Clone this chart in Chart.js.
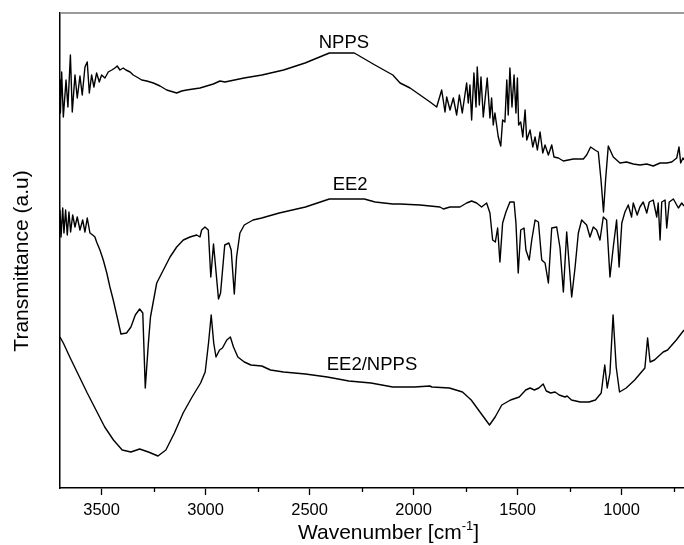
<!DOCTYPE html>
<html>
<head>
<meta charset="utf-8">
<script src="https://cdn.jsdelivr.net/npm/chart.js@4/dist/chart.umd.min.js"></script>
<style>
  html, body { margin: 0; padding: 0; background: #fff; overflow: hidden; }
  #wrap { width: 684px; height: 545px; position: relative; }
</style>
</head>
<body>
<div id="wrap"><canvas id="c" width="684" height="545"></canvas></div>
<script>
// FTIR spectra: wavenumber (cm-1) and transmittance (arbitrary units, offset stacked)
const nppsWn = [3700,3698,3692,3684,3671,3662,3650,3641,3628,3617,
  3604,3593,3580,3569,3559,3548,3537,3524,3511,3500,
  3484,3468,3451,3436,3425,3412,3396,3383,3363,3348,
  3331,3307,3283,3251,3219,3187,3155,3139,3115,3091,
  3059,3027,2995,2963,2931,2907,2815,2729,2625,2522,
  2405,2285,2186,2100,2065,2017,1969,1921,1889,1865,
  1849,1841,1825,1809,1793,1780,1766,1745,1737,1729,
  1721,1710,1700,1694,1684,1676,1665,1646,1633,1625,
  1617,1609,1593,1581,1572,1561,1552,1545,1537,1527,
  1517,1508,1501,1495,1485,1475,1464,1456,1440,1427,
  1416,1405,1392,1379,1368,1352,1336,1325,1304,1280,
  1232,1184,1168,1149,1128,1112,1099,1087,1077,1064,
  1040,1008,976,944,912,879,848,815,783,759,
  735,724,716,705,700];
const nppsT = [408,375,416,371,408,381,433,376,413,390,
  412,393,421,426,395,413,401,415,406,413,
  410,416,418,420,422,418,420,418,416,413,
  411,408,407,405,402,398,396,395,397,398,
  399,400,402,404,407,406,410,413,418,425,
  435,435,423,413,405,400,393,386,381,398,
  376,391,378,390,373,393,375,405,385,403,
  368,415,381,421,383,411,371,410,370,390,
  363,375,351,342,368,366,408,373,420,381,
  413,375,410,363,366,351,378,348,358,341,
  351,338,356,335,343,333,343,331,330,327,
  329,329,333,341,338,336,308,276,308,342,
  331,325,326,324,323,324,322,325,325,326,
  330,341,325,330,328];

const ee2Wn = [3700,3695,3687,3681,3673,3665,3657,3649,3639,3628,
  3617,3604,3591,3580,3569,3556,3543,3532,3524,3508,
  3492,3475,3460,3444,3422,3407,3380,3359,3338,3317,
  3302,3290,3275,3265,3250,3235,3203,3171,3139,3107,
  3075,3043,3027,3019,3003,2987,2975,2962,2938,2928,
  2908,2888,2877,2862,2851,2835,2814,2772,2730,2646,
  2520,2405,2237,2185,2100,2065,1969,1873,1857,1825,
  1777,1745,1721,1697,1673,1649,1633,1620,1607,1596,
  1585,1572,1556,1537,1517,1508,1497,1485,1469,1460,
  1444,1432,1416,1400,1384,1368,1352,1336,1312,1296,
  1280,1264,1240,1224,1208,1192,1168,1152,1136,1120,
  1104,1088,1072,1056,1040,1024,1012,999,984,968,
  952,944,925,912,896,879,867,848,831,824,
  815,807,791,783,771,751,727,711,700];
const ee2T = [278,251,280,255,278,253,276,256,273,261,
  271,258,268,256,270,255,253,251,246,238,
  228,215,201,188,168,154,155,161,173,179,
  175,100,145,171,188,205,218,231,241,248,
  251,253,251,258,261,258,211,244,189,195,
  243,245,238,194,231,255,263,268,270,275,
  281,289,289,286,284,284,283,281,279,281,
  281,285,287,285,281,285,275,248,246,260,
  226,265,276,286,286,265,215,258,260,238,
  228,248,268,266,228,225,205,260,261,240,
  196,256,191,220,255,268,263,251,261,258,
  248,271,268,211,241,268,221,265,276,283,
  271,285,273,281,286,275,286,288,271,285,
  248,286,288,260,286,289,280,285,282];

const mixWn = [3700,3684,3653,3611,3569,3527,3485,3443,3401,3359,
  3317,3275,3229,3191,3150,3108,3065,3024,3002,2986,
  2973,2961,2950,2933,2919,2898,2881,2866,2845,2814,
  2782,2730,2688,2625,2520,2415,2311,2205,2100,1996,
  1922,1912,1828,1765,1723,1681,1635,1608,1576,1534,
  1492,1461,1440,1419,1398,1377,1362,1341,1320,1300,
  1272,1262,1241,1199,1157,1126,1098,1081,1069,1056,
  1041,1026,1010,978,937,888,875,863,842,800,
  779,737,700];
const mixT = [151,145,131,113,95,78,61,48,38,36,
  39,36,32,38,55,75,91,105,116,145,
  173,145,131,138,140,148,151,141,131,126,
  123,122,118,116,114,111,107,105,101,101,
  102,101,100,96,88,76,63,71,83,88,
  91,98,100,98,100,104,97,95,96,93,
  91,92,88,86,86,88,95,123,100,115,
  173,121,96,100,108,120,150,126,128,136,
  138,148,158];

// Axis settings
const xMin = 700, xMax = 3700;
const majorTicks = [3500, 3000, 2500, 2000, 1500, 1000];
const minorTicks = [3250, 2750, 2250, 1750, 1250, 750];
const yMin = 0, yMax = 475;

// Spectrum name labels (placed in data coordinates)
const curveLabels = [
  { text: 'NPPS', wn: 2335, t: 445 },
  { text: 'EE2', wn: 2305, t: 303 },
  { text: 'EE2/NPPS', wn: 2200, t: 123 }
];

const FONT = '"Liberation Sans", Arial, Helvetica, sans-serif';

function pts(wn, t) { return wn.map((w, i) => ({ x: w, y: t[i] })); }

const decor = {
  id: 'decor',
  afterDraw(chart) {
    const { ctx, chartArea: a, scales: { x, y } } = chart;
    ctx.save();
    // grey top frame line
    ctx.strokeStyle = '#7a7a7a';
    ctx.lineWidth = 1.5;
    ctx.beginPath();
    ctx.moveTo(a.left, a.top);
    ctx.lineTo(a.right, a.top);
    ctx.stroke();
    // minor ticks on the wavenumber axis
    ctx.strokeStyle = '#000';
    ctx.lineWidth = 1.3;
    minorTicks.forEach(v => {
      const px = Math.round(x.getPixelForValue(v)) + 0.5;
      ctx.beginPath();
      ctx.moveTo(px, a.bottom);
      ctx.lineTo(px, a.bottom + 4);
      ctx.stroke();
    });
    // spectrum names
    ctx.fillStyle = '#000';
    ctx.font = '18.5px ' + FONT;
    ctx.textAlign = 'center';
    ctx.textBaseline = 'middle';
    curveLabels.forEach(l => ctx.fillText(l.text, x.getPixelForValue(l.wn), y.getPixelForValue(l.t)));
    // y axis title
    ctx.save();
    ctx.translate(22, 261);
    ctx.rotate(-Math.PI / 2);
    ctx.font = '21px ' + FONT;
    ctx.fillText('Transmittance (a.u)', 0, 0);
    ctx.restore();
    // x axis title with superscript
    const main = 'Wavenumber [cm', sup = '-1', tail = ']';
    ctx.textAlign = 'left';
    ctx.textBaseline = 'alphabetic';
    ctx.font = '21px ' + FONT;
    const w1 = ctx.measureText(main).width, w3 = ctx.measureText(tail).width;
    ctx.font = '13px ' + FONT;
    const w2 = ctx.measureText(sup).width;
    let tx = 388.5 - (w1 + w2 + w3) / 2;
    const base = 538.5;
    ctx.font = '21px ' + FONT;
    ctx.fillText(main, tx, base);
    tx += w1;
    ctx.font = '13px ' + FONT;
    ctx.fillText(sup, tx, base - 9);
    tx += w2;
    ctx.font = '21px ' + FONT;
    ctx.fillText(tail, tx, base);
    ctx.restore();
  }
};

const line = (data) => ({
  data, borderColor: '#000', borderWidth: 1.4, pointRadius: 0,
  tension: 0, fill: false, borderJoinStyle: 'round'
});

new Chart(document.getElementById('c'), {
  type: 'line',
  data: {
    datasets: [
      line(pts(nppsWn, nppsT)),
      line(pts(ee2Wn, ee2T)),
      line(pts(mixWn, mixT))
    ]
  },
  options: {
    responsive: false,
    animation: false,
    devicePixelRatio: 1,
    layout: { padding: { top: 13, right: 0, bottom: 0, left: 0 } },
    plugins: { legend: { display: false }, tooltip: { enabled: false }, title: { display: false } },
    scales: {
      x: {
        type: 'linear', min: xMin, max: xMax, reverse: true,
        afterBuildTicks(s) { s.ticks = majorTicks.map(v => ({ value: v })); },
        afterFit(s) { s.height = 57; s.paddingLeft = 0; s.paddingRight = 0; },
        ticks: { autoSkip: false, maxRotation: 0, minRotation: 0,
                 callback: v => String(v),
                 color: '#000', padding: 6, font: { size: 16.5, family: FONT } },
        grid: { drawOnChartArea: false, drawTicks: true, tickLength: 7, tickColor: '#000', tickWidth: 1.3 },
        border: { color: '#000', width: 1.5 }
      },
      y: {
        min: yMin, max: yMax,
        afterFit(s) { s.width = 60; s.paddingTop = 0; s.paddingBottom = 0; },
        ticks: { display: false },
        grid: { display: false },
        border: { color: '#000', width: 1.5 }
      }
    }
  },
  plugins: [decor]
});
</script>
</body>
</html>
